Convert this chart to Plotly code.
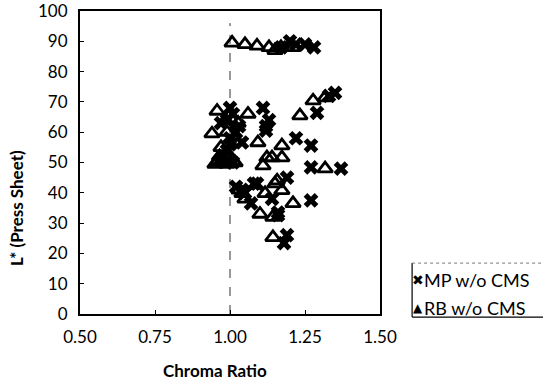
import plotly.graph_objects as go

# MP w/o CMS (X markers)
mp_x = [1.17, 1.20, 1.22, 1.25, 1.28, 1.35, 1.33, 1.29, 1.00, 0.99, 1.02, 1.03,
        1.11, 1.13, 1.12, 1.04, 1.00, 0.98, 1.22, 1.27, 1.27, 1.37, 1.09, 1.08,
        1.19, 1.04, 1.02, 1.07, 1.27, 1.16, 1.16, 1.19, 1.18, 1.12, 0.97, 1.01,
        1.14, 1.00, 0.99, 1.01, 1.05]
mp_y = [88, 90, 89, 89, 88, 73, 72, 66.4, 68, 64, 60, 62,
        68, 64, 60.5, 56.6, 56, 52, 58, 55.6, 48.4, 48, 43, 43,
        45, 41, 42, 36.5, 37.5, 33.5, 32.6, 26, 23.4, 62, 63, 50,
        38, 58, 54, 66, 40]

# RB w/o CMS (triangle markers)
rb_x = [1.007, 1.05, 1.09, 1.13, 1.15, 1.17, 1.21, 0.957, 0.94, 1.06, 1.027,
        1.093, 1.173, 1.123, 1.173, 0.957, 0.967, 1.00, 1.017, 1.11, 1.317,
        1.04, 1.157, 1.173, 1.117, 1.21, 1.10, 1.143, 1.143, 1.233, 1.277,
        1.317, 1.14, 1.15, 0.99, 0.97, 1.00, 1.02, 0.95, 0.96, 0.98, 0.99,
        1.01, 0.965, 0.985, 1.03, 1.05]
rb_y = [89.5, 89, 88.5, 88, 87, 88, 88, 67, 59.5, 66, 63,
        56.6, 55.6, 51.6, 51.6, 50, 49.7, 50, 50, 49, 48,
        39.8, 44, 40.8, 39.8, 36.5, 33, 32, 25.3, 65.5, 70.4,
        71.4, 51.6, 43, 60, 55, 52, 57, 49.5, 50.5, 51, 49.5,
        50.5, 52, 64, 41, 38]

series_names = ["MP w/o CMS", "RB w/o CMS"]
legend_glyphs = ["✖", "▲"]

x_ticks = [0.50, 0.75, 1.00, 1.25, 1.50]
x_tick_labels = ["0.50", "0.75", "1.00", "1.25", "1.50"]
y_ticks = list(range(0, 101, 10))

FONT = "Lato"

fig = go.Figure()
fig.add_trace(go.Scatter(
    x=mp_x, y=mp_y, mode="markers", name=series_names[0],
    marker=dict(symbol="x", size=13, color="black", line=dict(width=0)),
))
fig.add_trace(go.Scatter(
    x=rb_x, y=rb_y, mode="markers", name=series_names[1],
    marker=dict(symbol="triangle-up-open", size=13, color="black",
                line=dict(width=2.8, color="black")),
))

# reference line at chroma ratio 1.0
fig.add_shape(type="line", xref="x", yref="y", x0=1.0, x1=1.0, y0=0, y1=96,
              line=dict(color="#333", width=1, dash="dash"), layer="below")

# hand-drawn legend (box partially cut at right edge like the reference)
fig.add_shape(type="line", xref="paper", yref="paper", x0=1.107, x1=1.107, y0=-0.01, y1=0.168,
              line=dict(color="black", width=1.2))
fig.add_shape(type="line", xref="paper", yref="paper", x0=1.107, x1=1.56, y0=-0.01, y1=-0.01,
              line=dict(color="black", width=1.2))
fig.add_shape(type="line", xref="paper", yref="paper", x0=1.107, x1=1.56, y0=0.168, y1=0.168,
              line=dict(color="#777", width=1, dash="dot"))

legend_y = [0.112, 0.020]
for name, glyph, ly in zip(series_names, legend_glyphs, legend_y):
    fig.add_annotation(xref="paper", yref="paper", x=1.125, y=ly, text=glyph,
                       showarrow=False, xanchor="center", yanchor="middle",
                       font=dict(family="DejaVu Sans", size=14 if glyph == "✖" else 12, color="black"))
    fig.add_annotation(xref="paper", yref="paper", x=1.141, y=ly, text=name,
                       showarrow=False, xanchor="left", yanchor="middle",
                       font=dict(family=FONT, size=18, color="black"))

# axis titles
fig.add_annotation(xref="paper", yref="paper", x=0.45, y=-0.188, text="<b>Chroma Ratio</b>",
                   showarrow=False, xanchor="center", yanchor="middle",
                   font=dict(family=FONT, size=17, color="black"))
fig.add_annotation(xref="paper", yref="paper", x=-0.21, y=0.35, text="<b>L* (Press Sheet)</b>",
                   showarrow=False, xanchor="center", yanchor="middle", textangle=-90,
                   font=dict(family=FONT, size=17, color="black"))

fig.update_layout(
    width=543, height=383,
    margin=dict(l=80, r=163, t=11, b=69, autoexpand=False),
    paper_bgcolor="white", plot_bgcolor="white",
    font=dict(family=FONT, color="black", size=17),
    showlegend=False,
    xaxis=dict(range=[0.5, 1.5], tickvals=x_ticks, ticktext=x_tick_labels,
               showgrid=False, zeroline=False, showline=True, linecolor="black",
               linewidth=2, mirror=True, ticks="inside", ticklen=4,
               tickcolor="black", ticklabelstandoff=7, ticklabeloverflow="allow"),
    yaxis=dict(range=[0, 100], tickvals=y_ticks,
               showgrid=False, zeroline=False, showline=True, linecolor="black",
               linewidth=2, mirror=True, ticks="inside", ticklen=4,
               tickcolor="black", ticklabelstandoff=7, ticklabeloverflow="allow"),
)

fig.write_html("out.html", config={"displayModeBar": False},
               post_script="document.body.style.margin='0';")
